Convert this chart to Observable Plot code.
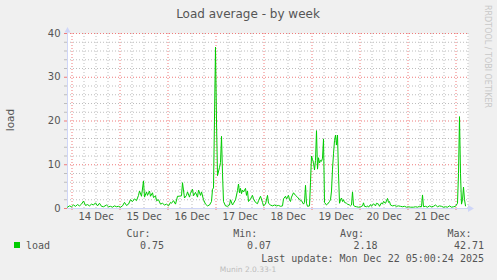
<!DOCTYPE html>
<html><head><meta charset="utf-8">
<script src="https://cdn.jsdelivr.net/npm/d3@7"></script>
<script src="https://cdn.jsdelivr.net/npm/@observablehq/plot@0.6"></script>
<style>
html,body{margin:0;padding:0;background:#f0f0f0;}
#wrap{position:relative;width:497px;height:280px;overflow:hidden;background:#f0f0f0;}
#wrap svg{position:absolute;left:0;top:0;}
</style></head><body><div id="wrap"></div>
<script>
// hours after 14 Dec 2025 00:00 (UTC), and load values
const hours = [-2.25,-1.25,-0.25,0.75,1.75,2.75,3.75,4.75,5.75,6.75,7.75,8.75,9.75,10.75,11.75,12.75,13.75,14.75,15.75,17.25,18.25,19.25,20.25,21.25,22.25,23.25,24.25,25.25,26.25,27.25,28.25,29.25,30.25,31.25,32.25,33.25,33.75,34.75,35.75,36.25,37.25,37.75,38.75,39.25,40.25,40.75,41.75,42.25,43.25,44.25,45.25,46.25,47.25,48.25,49.25,49.75,50.75,51.75,52.75,53.75,54.75,55.25,56.25,57.25,57.75,58.75,59.25,60.25,60.75,61.75,62.75,63.25,64.25,64.75,65.75,66.75,67.75,68.75,69.75,70.25,70.75,71.75,72.25,72.75,73.75,74.25,74.75,75.25,75.75,76.75,77.75,78.75,79.25,80.25,80.75,81.75,82.75,83.25,83.75,84.25,84.75,85.25,85.75,86.75,87.25,87.75,88.25,89.25,90.25,90.75,91.75,92.75,93.25,94.25,95.25,95.75,96.75,97.75,98.25,99.25,100.25,101.25,102.25,103.25,104.25,105.25,105.75,106.75,107.25,108.25,108.75,109.25,109.75,110.75,111.75,112.75,113.75,114.75,115.75,116.25,116.75,117.25,117.75,118.75,119.25,119.75,120.25,120.75,121.25,121.75,122.25,122.75,123.25,123.75,124.25,124.75,125.25,125.75,126.25,127.25,127.75,128.75,129.25,129.75,130.25,130.75,131.25,131.75,132.25,132.75,133.25,133.75,134.25,134.75,135.25,135.75,136.25,137.25,137.75,138.75,139.25,139.75,140.25,140.75,141.25,142.25,143.25,144.25,145.25,145.75,146.25,147.25,147.75,148.25,149.25,149.75,150.75,151.75,152.25,153.25,153.75,154.75,155.25,155.75,156.75,157.75,158.25,158.75,159.25,160.25,161.25,162.25,163.25,164.25,165.25,166.25,167.25,168.25,169.25,170.75,171.75,172.75,173.75,174.75,175.25,175.75,176.75,177.75,178.75,179.75,180.75,181.75,182.75,183.75,184.75,185.75,186.75,187.75,188.75,189.75,190.75,191.75,192.75,193.25,193.75,194.25,194.75,195.25,195.75,196.25,196.75];
const load = [0.3,0.6,0.4,0.8,0.5,0.9,0.6,1.0,1.7,0.7,0.9,0.6,1.0,0.8,1.3,0.6,1.2,0.5,0.4,0.8,0.4,0.5,0.3,0.6,0.4,0.5,0.3,0.6,1.4,0.7,1.0,2.0,1.6,2.2,1.8,3.0,4.0,2.8,6.3,2.6,3.8,3.0,4.0,2.8,3.6,2.5,2.9,1.8,2.0,1.0,1.2,0.8,1.0,0.6,1.4,1.2,1.8,1.0,2.8,2.8,2.9,5.9,2.4,3.0,3.8,2.6,3.5,4.4,2.9,3.7,2.6,4.2,3.0,3.8,2.0,1.0,0.6,0.8,1.6,4.4,4.7,36.9,20.0,7.5,9.4,10.5,16.5,8.0,1.6,0.6,0.5,0.8,2.0,0.8,1.2,2.0,4.1,5.6,3.6,4.6,3.4,4.2,3.8,4.6,3.0,4.0,1.6,2.2,3.0,2.2,1.4,1.1,1.8,2.8,1.4,0.6,1.0,3.0,1.2,0.8,0.6,0.8,0.6,0.7,0.5,0.6,2.2,2.8,2.2,3.0,2.0,1.6,2.6,3.6,3.0,2.6,2.0,1.8,1.0,1.4,5.3,1.2,0.5,0.6,6.0,12.0,11.2,10.5,8.8,11.0,17.8,9.0,11.6,10.4,11.0,10.8,11.5,15.9,1.4,0.8,1.0,1.6,2.0,4.0,9.0,12.5,15.5,16.8,14.5,16.8,8.0,1.2,2.0,2.4,1.6,2.0,1.4,1.2,1.0,0.8,0.6,0.8,3.8,0.8,0.5,0.4,0.3,0.4,0.6,1.3,0.5,0.4,0.6,0.3,0.9,0.5,1.1,0.6,1.2,1.0,0.5,1.3,1.0,1.6,1.2,2.3,1.4,1.6,0.8,0.6,0.7,0.5,0.6,0.5,0.4,0.5,0.3,0.4,0.3,0.3,0.4,0.3,0.5,0.4,3.1,0.4,0.5,0.3,0.6,0.4,0.5,0.8,0.4,0.6,0.5,0.3,0.4,0.3,0.6,0.3,0.4,0.5,1.2,8.0,21.0,8.0,1.0,2.0,4.9,2.0,0.6];
const dayLabels = ["14 Dec","15 Dec","16 Dec","17 Dec","18 Dec","19 Dec","20 Dec","21 Dec"];
const yTicks = [0,10,20,30,40];
const title = "Load average - by week";
const yLabel = "load";
const seriesName = "load";
const statNames = ["Cur:","Min:","Avg:","Max:"];
const statValues = ["0.75","0.07","2.18","42.71"];
const lastUpdate = "Last update: Mon Dec 22 05:00:24 2025";
const sideText = "RRDTOOL / TOBI OETIKER";
const footer = "Munin 2.0.33-1";

const base = Date.UTC(2025, 11, 14);
const toDate = h => new Date(base + h * 3600e3);
const data = hours.map((h, i) => ({t: toDate(h), v: load[i]}));
const xDomain = [toDate(-2.25), toDate(198.25)];
const tickDates = dayLabels.map(s => new Date(Date.UTC(2025, 11, parseInt(s), 12)));
const labelOf = new Map(tickDates.map((d, i) => [+d, dayLabels[i]]));
const minorY = d3.range(0, 41, 2).filter(v => v % 10 !== 0);
const majorY = d3.range(10, 41, 10);
const majorX = d3.utcDay.range(xDomain[0], xDomain[1]);
const minorX = d3.utcHour.every(6).range(xDomain[0], xDomain[1]).filter(d => d.getUTCHours() !== 0);

const minorCol = "#bdbdbd", majorCol = "#ef7b7b", axisCol = "#cfd6f8", green = "#00cc00";

const chart = Plot.plot({
  width: 497, height: 280,
  marginLeft: 67, marginRight: 29, marginTop: 33, marginBottom: 72,
  style: {background: "transparent", fontFamily: "DejaVu Sans, sans-serif", fontSize: "10px", color: "#555"},
  x: {type: "utc", domain: xDomain},
  y: {domain: [0, 40]},
  marks: [
    Plot.frame({fill: "white", stroke: "none"}),
    Plot.ruleY(minorY, {stroke: minorCol, strokeDasharray: "1,2"}),
    Plot.ruleX(minorX, {stroke: minorCol, strokeDasharray: "1,2"}),
    Plot.ruleY(majorY, {stroke: majorCol, strokeDasharray: "1,2"}),
    Plot.ruleX(majorX, {stroke: majorCol, strokeDasharray: "1,2"}),
    Plot.axisY(minorY, {tickSize: 3, tickFormat: () => "", stroke: minorCol, label: null}),
    Plot.axisY(yTicks, {tickSize: 3, tickPadding: 4, stroke: majorCol, fill: "#555", label: null, fontSize: 10}),
    Plot.axisX(majorX, {tickSize: 2, tickFormat: () => "", stroke: majorCol, label: null}),
    Plot.axisX(tickDates, {tickSize: 0, tickPadding: 4, tickFormat: d => labelOf.get(+d), fill: "#555", label: null, fontSize: 10}),
    Plot.ruleX([xDomain[0]], {stroke: axisCol}),
    Plot.ruleY([0], {stroke: axisCol}),
    Plot.line(data, {x: "t", y: "v", stroke: green, strokeWidth: 1})
  ]
});
const wrap = document.getElementById("wrap");
wrap.appendChild(chart);

// overlay: title, labels, legend
const ov = d3.select(wrap).append("svg").attr("width", 497).attr("height", 280)
  .style("font-family", "DejaVu Sans, sans-serif");
ov.append("path").attr("d", "M64.5,32.5 L67.5,27 L70.5,32.5 Z").attr("fill", axisCol);
ov.append("path").attr("d", "M468,205 L474,208.5 L468,212 Z").attr("fill", axisCol);
ov.append("line").attr("x1", 67.5).attr("x2", 67.5).attr("y1", 33).attr("y2", 30).attr("stroke", axisCol);
ov.append("text").attr("x", 248).attr("y", 17.5).attr("text-anchor", "middle")
  .attr("font-size", 12).attr("fill", "#555").text(title);
ov.append("text").attr("transform", "translate(14,120) rotate(-90)").attr("text-anchor", "middle")
  .attr("font-size", 10.5).attr("fill", "#555").text(yLabel);
ov.append("text").attr("transform", "translate(485,5) rotate(90)").attr("text-anchor", "start")
  .attr("font-size", 8).attr("fill", "#c8c8c8").text(sideText);
const mono = "DejaVu Sans Mono, monospace";
ov.append("rect").attr("x", 14).attr("y", 242).attr("width", 6).attr("height", 6).attr("fill", green);
ov.append("text").attr("x", 26).attr("y", 248.5).attr("font-family", mono).attr("font-size", 10)
  .attr("fill", "#555").text(seriesName);
const headEnds = [150.5, 257.3, 364, 471.5];
const valEnds = [164, 271, 377.5, 484];
statNames.forEach((s, i) => {
  ov.append("text").attr("x", headEnds[i]).attr("y", 237).attr("text-anchor", "end")
    .attr("font-family", mono).attr("font-size", 10).attr("fill", "#555").text(s);
  ov.append("text").attr("x", valEnds[i]).attr("y", 248.5).attr("text-anchor", "end")
    .attr("font-family", mono).attr("font-size", 10).attr("fill", "#555").text(statValues[i]);
});
ov.append("text").attr("x", 484).attr("y", 261.5).attr("text-anchor", "end")
  .attr("font-family", mono).attr("font-size", 10).attr("fill", "#555").text(lastUpdate);
ov.append("text").attr("x", 248).attr("y", 272).attr("text-anchor", "middle")
  .attr("font-size", 7.5).attr("fill", "#bdbdbd").text(footer);
</script></body></html>
